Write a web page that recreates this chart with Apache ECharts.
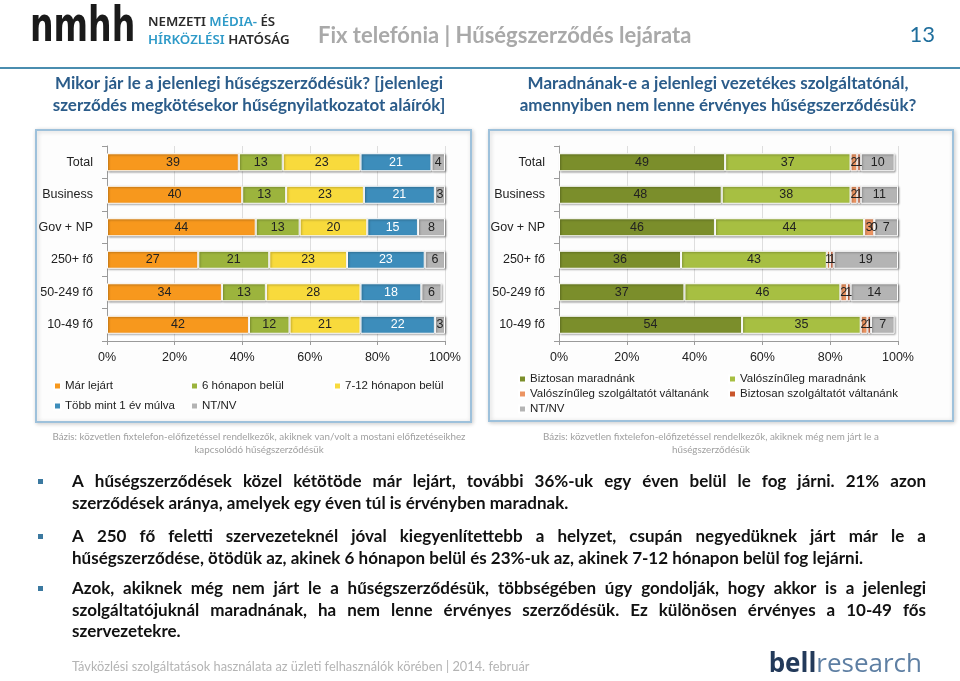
<!DOCTYPE html>
<html><head><meta charset="utf-8">
<script src="https://cdn.jsdelivr.net/npm/echarts@6/dist/echarts.min.js"></script>
<style>html,body{margin:0;padding:0;background:#fff}#c{width:960px;height:681px}</style>
</head><body><div id="c"></div>
<script>
// ---- data ----
const categories = ['Total', 'Business', 'Gov + NP', '250+ fő', '50-249 fő', '10-49 fő'];
const tickLabels = ['0%', '20%', '40%', '60%', '80%', '100%'];

const leftNames = ['Már lejárt', '6 hónapon belül', '7-12 hónapon belül', 'Több mint 1 év múlva', 'NT/NV'];
const marLejart = [39, 40, 44, 27, 34, 42];
const hatHonap = [13, 13, 13, 21, 13, 12];
const hetTizenketto = [23, 23, 20, 23, 28, 21];
const tobbMint1Ev = [21, 21, 15, 23, 18, 22];
const ntnvLeft = [4, 3, 8, 6, 6, 3];

const rightNames = ['Biztosan maradnánk', 'Valószínűleg maradnánk', 'Valószínűleg szolgáltatót váltanánk', 'Biztosan szolgáltatót váltanánk', 'NT/NV'];
const biztosanMarad = [49, 48, 46, 36, 37, 54];
const valoszMarad = [37, 38, 44, 43, 46, 35];
const valoszValt = [2, 2, 3, 1, 2, 2];
const biztosanValt = [1, 1, 0, 1, 1, 1];
const ntnvRight = [10, 11, 7, 19, 14, 7];

// ---- font detection (narrow Arial-like font if installed) ----
const measureCtx = document.createElement('canvas').getContext('2d');
function hasFont(name) {
  measureCtx.font = '30px monospace';
  const a = measureCtx.measureText('abcdefghijklmnopqrstuvwxyz0123456789').width;
  measureCtx.font = '30px "' + name + '", monospace';
  const b = measureCtx.measureText('abcdefghijklmnopqrstuvwxyz0123456789').width;
  return Math.abs(a - b) > 0.5;
}
const narrowOK = hasFont('Liberation Sans Narrow');
const AR = narrowOK ? '"Liberation Sans Narrow", "Liberation Sans", Arial, sans-serif' : '"Liberation Sans", Arial, sans-serif';
const axisFS = narrowOK ? 14 : 12.5;
const barFS = narrowOK ? 14 : 12.5;
const legFS = narrowOK ? 13.5 : 11.5;

// ---- styles ----
const leftColors = ['#F7981D', '#9CB43D', '#F8DA3C', '#3D8DBB', '#B4B4B4'];
const rightColors = ['#7B8E2B', '#A7BF42', '#EC9462', '#C9562C', '#B4B4B4'];
const leftLabelColors = ['#222', '#222', '#222', '#fff', '#222'];

function mkSeries(name, data, color, labelColor, stack, idx) {
  return {
    type: 'bar', name: name, data: data, stack: stack,
    xAxisIndex: idx, yAxisIndex: idx, barWidth: 18,
    itemStyle: { color: color, borderColor: '#fff', borderWidth: 1,
      shadowBlur: 2, shadowColor: 'rgba(0,0,0,0.35)', shadowOffsetX: 1, shadowOffsetY: 1 },
    label: { show: true, position: 'inside', color: labelColor, fontFamily: AR, fontSize: barFS },
    emphasis: { disabled: true }
  };
}

const leftData = [marLejart, hatHonap, hetTizenketto, tobbMint1Ev, ntnvLeft];
const rightData = [biztosanMarad, valoszMarad, valoszValt, biztosanValt, ntnvRight];
const series = [];
leftData.forEach((d, i) => series.push(mkSeries(leftNames[i], d, leftColors[i], leftLabelColors[i], 'L', 0)));
rightData.forEach((d, i) => series.push(mkSeries(rightNames[i], d, rightColors[i], '#222', 'R', 1)));

function xAx(idx) {
  return {
    gridIndex: idx, type: 'value', min: 0, max: 100, interval: 20,
    axisLine: { show: true, lineStyle: { color: '#9a9a9a' } },
    axisTick: { show: true, length: 4, lineStyle: { color: '#9a9a9a' } },
    splitLine: { show: true, lineStyle: { color: '#dedede' } },
    axisLabel: { formatter: v => tickLabels[Math.round(v / 20)], color: '#222', fontFamily: AR, fontSize: axisFS, margin: 10 }
  };
}
function yAx(idx) {
  return {
    gridIndex: idx, type: 'category', data: categories, inverse: true,
    axisLine: { show: true, lineStyle: { color: '#9a9a9a' } },
    axisTick: { show: true, length: 5, lineStyle: { color: '#9a9a9a' } },
    axisLabel: { color: '#222', fontFamily: AR, fontSize: axisFS, margin: 14 }
  };
}

// ---- justified bullet text ----
const bodyFamily = 'Lato, "Open Sans", sans-serif';
const paragraphs = [
  { y: 482, lines: ['A hűségszerződések közel kétötöde már lejárt, további 36%-uk egy éven belül le fog járni. 21% azon',
                    'szerződések aránya, amelyek egy éven túl is érvényben maradnak.'] },
  { y: 537, lines: ['A 250 fő feletti szervezeteknél jóval kiegyenlítettebb a helyzet, csupán negyedüknek járt már le a',
                    'hűségszerződése, ötödük az, akinek 6 hónapon belül és 23%-uk az, akinek 7-12 hónapon belül fog lejárni.'] },
  { y: 589, lines: ['Azok, akiknek még nem járt le a hűségszerződésük, többségében úgy gondolják, hogy akkor is a jelenlegi',
                    'szolgáltatójuknál maradnának, ha nem lenne érvényes szerződésük. Ez különösen érvényes a 10-49 fős',
                    'szervezetekre.'] }
];
const textLeft = 72, textRight = 926, lineStep = 21.5;
const baseSize = 16;
measureCtx.font = 'bold ' + baseSize + 'px ' + bodyFamily;
let maxW = 0;
paragraphs.forEach(p => p.lines.forEach(l => { maxW = Math.max(maxW, measureCtx.measureText(l).width); }));
const bodySize = Math.min(17, baseSize * (textRight - textLeft) / maxW);
const bodyFont = 'bold ' + bodySize.toFixed(2) + 'px ' + bodyFamily;
measureCtx.font = bodyFont;

const graphics = [];
paragraphs.forEach(p => {
  graphics.push({ type: 'rect', shape: { x: 38, y: p.y - 3, width: 5, height: 5 }, style: { fill: '#3B79A0' } });
  p.lines.forEach((line, li) => {
    const y = p.y + li * lineStep;
    const words = line.split(' ');
    const ws = words.map(w => measureCtx.measureText(w).width);
    const tot = ws.reduce((a, b) => a + b, 0);
    const justify = li < p.lines.length - 1 && words.length > 1;
    const gap = justify ? (textRight - textLeft - tot) / (words.length - 1) : measureCtx.measureText(' ').width;
    let cx = textLeft;
    words.forEach((w, wi) => {
      graphics.push({ type: 'text', x: cx, y: y,
        style: { text: w, font: bodyFont, fill: '#111', textAlign: 'left', align: 'left', textVerticalAlign: 'middle', verticalAlign: 'middle' } });
      cx += ws[wi] + gap;
    });
  });
});

function txt(x, y, text, font, fill, align) {
  return { type: 'text', x: x, y: y, style: { text: text, font: font, fill: fill,
    textAlign: align || 'left', align: align || 'left', textVerticalAlign: 'middle', verticalAlign: 'middle' } };
}
const CAL = 'Lato, "Open Sans", sans-serif';
const logoFont = '600 13.3px "Noto Sans", sans-serif';

// boxes
graphics.unshift(
  { type: 'rect', z: -10, shape: { x: 36, y: 130, width: 435, height: 292 },
    style: { fill: '#fdfdfd', stroke: '#9EC1DB', lineWidth: 2, shadowBlur: 4, shadowColor: 'rgba(0,0,0,0.18)', shadowOffsetX: 1, shadowOffsetY: 1 } },
  { type: 'rect', z: -10, shape: { x: 489, y: 130, width: 464, height: 291 },
    style: { fill: '#fdfdfd', stroke: '#9EC1DB', lineWidth: 2, shadowBlur: 4, shadowColor: 'rgba(0,0,0,0.18)', shadowOffsetX: 1, shadowOffsetY: 1 } }
);
graphics.push(
  // header line
  { type: 'line', shape: { x1: 0, y1: 68, x2: 960, y2: 68 }, style: { stroke: '#4A8DAF', lineWidth: 2 } },
  // logo
  { type: 'text', x: 30, y: 29, scaleX: 0.69, style: { text: 'nmhh', font: 'bold 48px "DejaVu Sans", sans-serif', fill: '#1a1a1a', textVerticalAlign: 'middle', verticalAlign: 'middle' } },
  { type: 'text', x: 148, y: 22, style: { text: '{d|NEMZETI }{b|MÉDIA-}{d| ÉS}', textVerticalAlign: 'middle', verticalAlign: 'middle',
      rich: { d: { font: logoFont, fill: '#2a2a2a', color: '#2a2a2a' }, b: { font: logoFont, fill: '#2E9AC8', color: '#2E9AC8' } } } },
  { type: 'text', x: 148, y: 40, style: { text: '{b|HÍRKÖZLÉSI }{d|HATÓSÁG}', textVerticalAlign: 'middle', verticalAlign: 'middle',
      rich: { d: { font: logoFont, fill: '#2a2a2a', color: '#2a2a2a' }, b: { font: logoFont, fill: '#2E9AC8', color: '#2E9AC8' } } } },
  // title
  txt(318, 36, 'Fix telefónia | Hűségszerződés lejárata', 'bold 22px ' + CAL, '#A9A9A9'),
  txt(935, 35, '13', '22px ' + CAL, '#1F6E9C', 'right'),
  // subtitles
  txt(249, 84, 'Mikor jár le a jelenlegi hűségszerződésük? [jelenlegi', 'bold 17px ' + CAL, '#2B5C8A', 'center'),
  txt(249, 106, 'szerződés megkötésekor hűségnyilatkozatot aláírók]', 'bold 17px ' + CAL, '#2B5C8A', 'center'),
  txt(718, 84, 'Maradnának-e a jelenlegi vezetékes szolgáltatónál,', 'bold 17px ' + CAL, '#2B5C8A', 'center'),
  txt(718, 106, 'amennyiben nem lenne érvényes hűségszerződésük?', 'bold 17px ' + CAL, '#2B5C8A', 'center'),
  // bases
  txt(259, 437, 'Bázis: közvetlen fixtelefon-előfizetéssel rendelkezők, akiknek van/volt a mostani előfizetéseikhez', '9.8px ' + CAL, '#A0A0A0', 'center'),
  txt(259, 450, 'kapcsolódó hűségszerződésük', '9.8px ' + CAL, '#A0A0A0', 'center'),
  txt(711, 437, 'Bázis: közvetlen fixtelefon-előfizetéssel rendelkezők, akiknek még nem járt le a', '9.8px ' + CAL, '#A0A0A0', 'center'),
  txt(711, 450, 'hűségszerződésük', '9.8px ' + CAL, '#A0A0A0', 'center'),
  // footer
  txt(72, 667, 'Távközlési szolgáltatások használata az üzleti felhasználók körében | 2014. február', '12.8px ' + CAL, '#B4B4B4'),
  { type: 'text', x: 922, y: 665, style: { text: '{a|bell}{b|research}', textAlign: 'right', align: 'right', textVerticalAlign: 'middle', verticalAlign: 'middle',
      rich: { a: { font: 'bold 26px "Open Sans", sans-serif', fill: '#233A5A', color: '#233A5A' }, b: { font: '26px "Open Sans", sans-serif', fill: '#5E7FA3', color: '#5E7FA3' } } } }
);

function legend(data, left, top, gap) {
  return { data: data, left: left, top: top, orient: 'vertical', itemWidth: 7, itemHeight: 7, itemGap: gap,
    icon: 'rect', selectedMode: false, padding: 0,
    textStyle: { fontFamily: AR, fontSize: legFS, color: '#222', padding: [0, 0, 0, -1] } };
}

const chart = echarts.init(document.getElementById('c'));
chart.setOption({
  animation: false,
  backgroundColor: '#fff',
  grid: [
    { left: 107, right: 515, top: 146, height: 195 },
    { left: 559, right: 62, top: 146, height: 195 }
  ],
  xAxis: [xAx(0), xAx(1)],
  yAxis: [yAx(0), yAx(1)],
  legend: [
    legend([leftNames[0], leftNames[3]], 53, 380, 8),
    legend([leftNames[1], leftNames[4]], 190, 380, 8),
    legend([leftNames[2]], 333, 380, 8),
    legend([rightNames[0], rightNames[2], rightNames[4]], 518, 373, 3),
    legend([rightNames[1], rightNames[3]], 728, 373, 3)
  ],
  series: series,
  graphic: graphics
});
</script></body></html>
